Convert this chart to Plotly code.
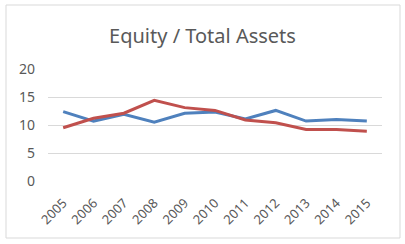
import plotly.graph_objects as go

years = ["2005", "2006", "2007", "2008", "2009", "2010", "2011", "2012", "2013", "2014", "2015"]
series_blue = [12.4, 10.7, 11.9, 10.5, 12.1, 12.3, 11.1, 12.6, 10.7, 11.0, 10.7]
series_red = [9.5, 11.2, 12.1, 14.4, 13.1, 12.6, 10.9, 10.4, 9.2, 9.2, 8.9]
y_ticks = [0, 5, 10, 15, 20]

fig = go.Figure()
fig.add_trace(go.Scatter(x=years, y=series_blue, mode="lines",
                         line=dict(color="#4F81BD", width=3), showlegend=False))
fig.add_trace(go.Scatter(x=years, y=series_red, mode="lines",
                         line=dict(color="#C0504D", width=3), showlegend=False))

fig.update_layout(
    width=405, height=244,
    margin=dict(l=48, r=23, t=69, b=63),
    paper_bgcolor="white", plot_bgcolor="white",
    font=dict(family="Noto Sans, sans-serif", color="#595959", size=12),
    title=dict(text="Equity / Total Assets", x=0.5, xanchor="center",
               y=1 - 36 / 244, yanchor="middle",
               font=dict(size=20, color="#595959")),
    xaxis=dict(type="category", showgrid=False, showline=False, ticks="",
               tickangle=-45, tickfont=dict(size=13, color="#595959"),
               ticklabelstandoff=11,
               range=[-0.5, 10.5], automargin=False),
    yaxis=dict(range=[0, 20], tickvals=y_ticks, showgrid=True,
               gridcolor="#D9D9D9", gridwidth=1, zeroline=False,
               showline=False, ticks="", ticklabelstandoff=12,
               tickfont=dict(size=14, color="#595959"), automargin=False),
    shapes=[dict(type="rect", xref="paper", yref="paper",
                 x0=-42 / 334, x1=1 + 18 / 334, y0=-57 / 112, y1=1 + 64 / 112,
                 line=dict(color="#D9D9D9", width=1))],
)

fig.write_html("out.html", config={"displayModeBar": False},
               post_script="document.body.style.margin='0';document.body.style.overflow='hidden';")
